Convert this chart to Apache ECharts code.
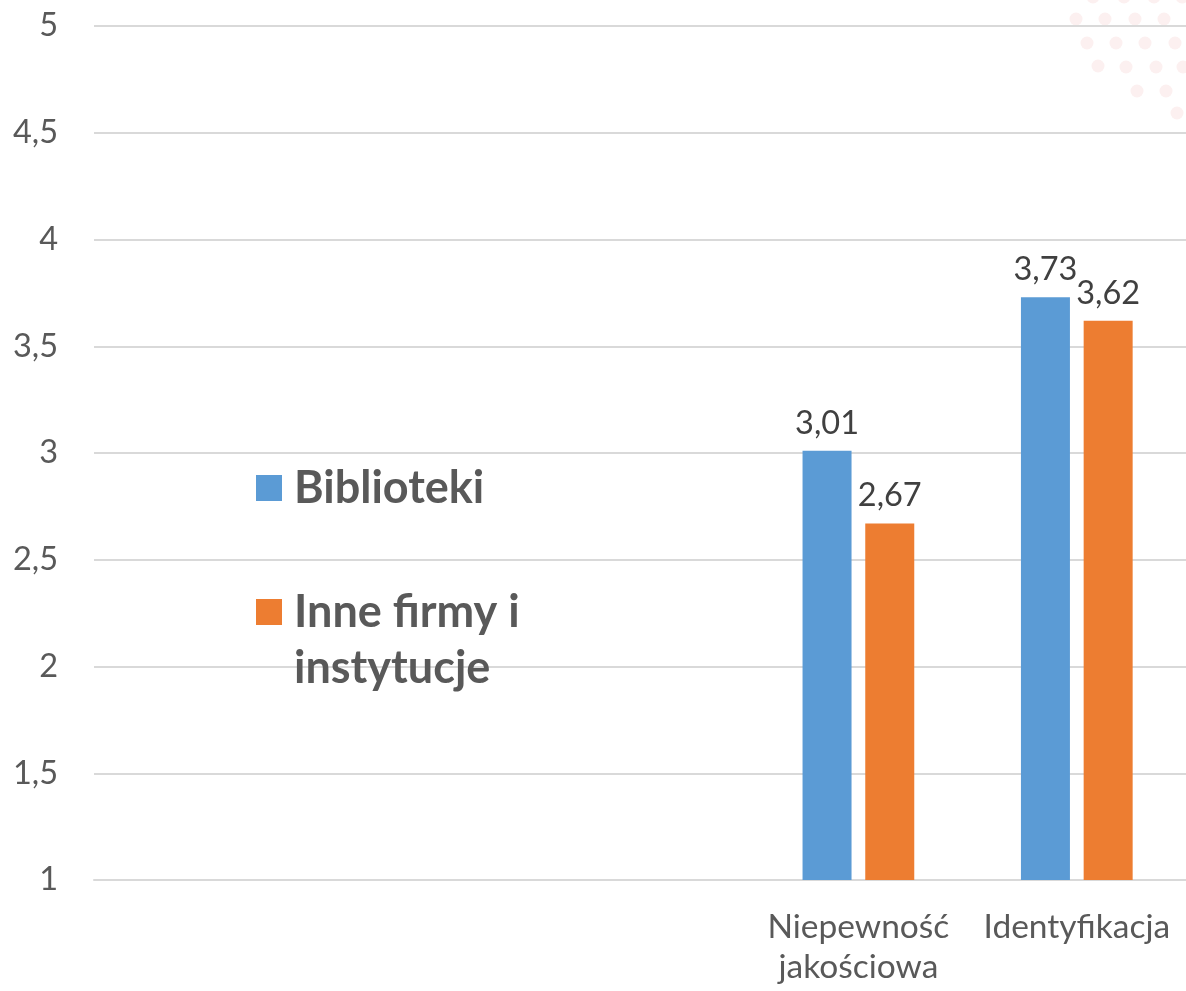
<!DOCTYPE html>
<html>
<head>
<meta charset="utf-8">
<script src="https://cdn.jsdelivr.net/npm/echarts@6/dist/echarts.min.js"></script>
<style>
html,body{margin:0;padding:0;background:#fff;}
#chart{width:1186px;height:991px;}
</style>
</head>
<body>
<div id="chart"></div>
<script>
const categories = ['', '', '', 'Niepewność\njakościowa', 'Identyfikacja'];
const seriesNames = ['Biblioteki', 'Inne firmy i\ninstytucje'];
const biblioteki = [null, null, null, 3.01, 3.73];
const inneFirmy = [null, null, null, 2.67, 3.62];
const yTicks = { min: 1, max: 5, interval: 0.5 };

const FONT = 'Lato';
const comma = v => String(v).replace('.', ',');

const dots = [
  [1093,-3],[1124,-3],[1154,-3],[1182,-3],
  [1076,19],[1105,19],[1135,19],[1164,19],
  [1087,43],[1116,43],[1145,43],[1175,43],
  [1098,66],[1126,67],[1156,67],[1183,67],
  [1137,91],[1166,91],
  [1177,113]
];

const chart = echarts.init(document.getElementById('chart'), null, {renderer: 'canvas'});
chart.setOption({
  backgroundColor: '#ffffff',
  animation: false,
  color: ['#5B9BD5', '#ED7D31'],
  graphic: dots.map(d => ({
    type: 'circle', silent: true, z: -10,
    shape: {cx: d[0], cy: d[1], r: 6.5},
    style: {fill: '#fcf0f0'}
  })),
  legend: [
    {
      data: [{name: seriesNames[0], icon: 'rect'}],
      orient: 'vertical', left: 251, top: 457,
      itemWidth: 26, itemHeight: 26, itemGap: 0,
      selectedMode: false,
      textStyle: {fontFamily: FONT, fontWeight: 'bold', fontSize: 45, lineHeight: 52, color: '#595959', padding: [0,0,0,7]}
    },
    {
      data: [{name: seriesNames[1], icon: 'rect'}],
      orient: 'vertical', left: 251, top: 523,
      itemWidth: 26, itemHeight: 26, itemGap: 0,
      selectedMode: false,
      formatter: n => '\n' + n,
      textStyle: {fontFamily: FONT, fontWeight: 'bold', fontSize: 45, lineHeight: 56, color: '#595959', padding: [0,0,0,7]}
    }
  ],
  grid: {left: 94, top: 26, bottom: 111, width: 1100, containLabel: false},
  xAxis: {
    type: 'category',
    data: categories,
    axisLine: {show: true, lineStyle: {color: '#d9d9d9', width: 2}},
    axisTick: {show: false},
    axisLabel: {interval: 0, fontFamily: FONT, fontSize: 33.5, color: '#595959', lineHeight: 40, margin: 27}
  },
  yAxis: {
    type: 'value',
    min: yTicks.min, max: yTicks.max, interval: yTicks.interval,
    axisLine: {show: false},
    axisTick: {show: false},
    splitLine: {lineStyle: {color: '#d9d9d9', width: 2}},
    axisLabel: {fontFamily: FONT, fontSize: 32.5, color: '#595959', margin: 36, formatter: v => comma(v)}
  },
  series: [
    {
      name: seriesNames[0], type: 'bar', data: biblioteki,
      barWidth: 49, barGap: '28%',
      label: {show: true, position: 'top', distance: 11, fontFamily: FONT, fontSize: 32.5, color: '#404040',
        formatter: p => comma(p.value.toFixed(2))}
    },
    {
      name: seriesNames[1], type: 'bar', data: inneFirmy,
      barWidth: 49, barGap: '28%',
      label: {show: true, position: 'top', distance: 11, fontFamily: FONT, fontSize: 32.5, color: '#404040',
        formatter: p => comma(p.value.toFixed(2))}
    }
  ]
});
</script>
</body>
</html>
